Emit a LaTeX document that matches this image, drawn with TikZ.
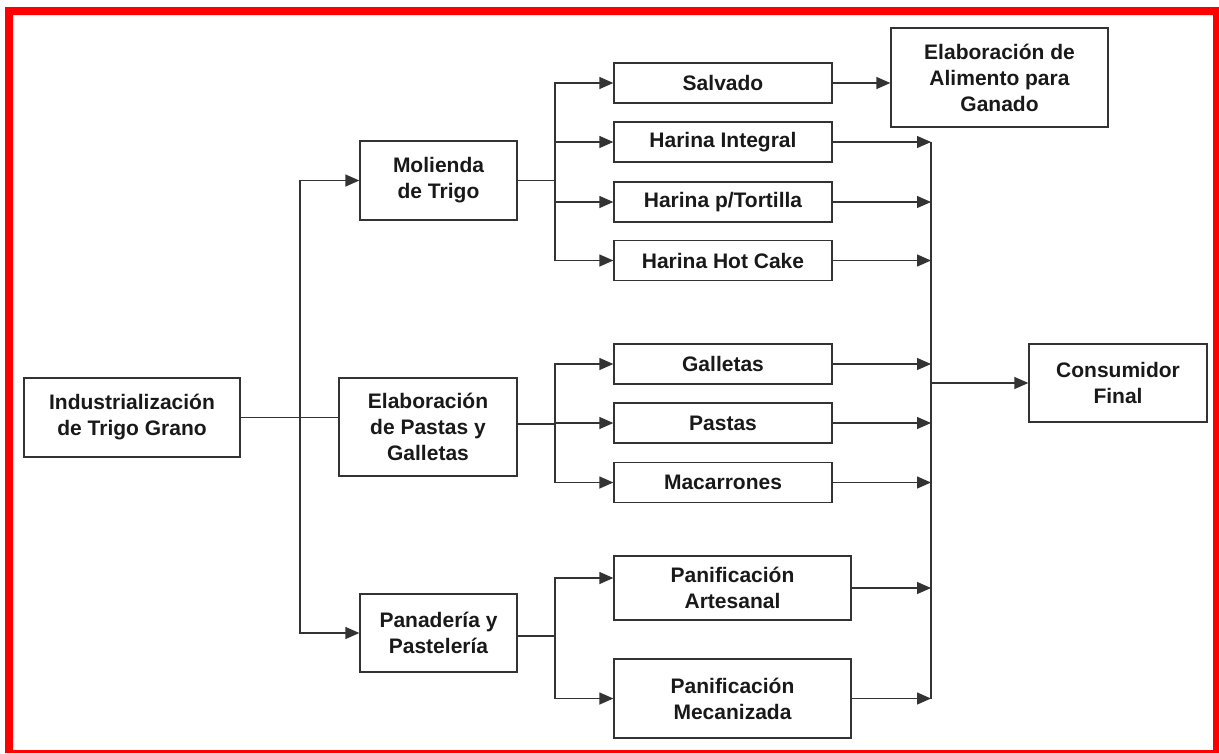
\documentclass[tikz,border=0pt]{standalone}
\usepackage{fontspec}
\setmainfont{Liberation Sans}
\usepackage{tikz}
\usetikzlibrary{arrows.meta}

\tikzset{
  box/.style={draw=black!80, line width=1.3pt, align=center, inner sep=0pt,
              text=black!90, font=\bfseries\fontsize{21}{26}\selectfont},
  arr/.style={draw=black!80, line width=1.3pt, -{Triangle[length=14pt,width=12pt]}},
  ln/.style={draw=black!80, line width=1.3pt}
}

\begin{document}
\begin{tikzpicture}[x=1pt, y=-1pt]
        \useasboundingbox (0,0) rectangle (1219,753);
        \fill[red, even odd rule] (5,7) rectangle (1219,753) (13,15) rectangle (1213,750);

        % first level
        \node[box, minimum width=216, minimum height=79] (ind) at (132,417.5) {Industrialización\\de Trigo Grano};
        \node[box, minimum width=157, minimum height=79] (mol) at (438.5,180.5) {Molienda\\de Trigo};
        \node[box, minimum width=178, minimum height=98] (pas) at (428,427) {Elaboración\\de Pastas y\\Galletas};
        \node[box, minimum width=157, minimum height=78] (pan) at (438.5,633) {Panadería y\\Pastelería};

        % products
        \node[box, minimum width=218, minimum height=40] (sal) at (723,83)    {Salvado};
        \node[box, minimum width=218, minimum height=40] (hin) at (723,142)   {Harina Integral};
        \node[box, minimum width=218, minimum height=40] (hto) at (723,202)   {Harina p/Tortilla};
        \node[box, minimum width=218, minimum height=40] (hhc) at (723,260.5) {Harina Hot Cake};
        \node[box, minimum width=218, minimum height=40] (gal) at (723,364)   {Galletas};
        \node[box, minimum width=218, minimum height=40] (pst) at (723,423)   {Pastas};
        \node[box, minimum width=218, minimum height=40] (mac) at (723,482.5) {Macarrones};
        \node[box, minimum width=237, minimum height=64] (art) at (732.5,588)   {Panificación\\Artesanal};
        \node[box, minimum width=237, minimum height=79] (mec) at (732.5,698.5) {Panificación\\Mecanizada};

        \node[box, minimum width=217, minimum height=99] (gan) at (999.5,77.5) {Elaboración de\\Alimento para\\Ganado};
        \node[box, minimum width=178, minimum height=78] (con) at (1118,383) {Consumidor\\Final};

        % junctions
        \coordinate (j1) at (300,417.5);
        \coordinate (j2) at (555,180.5);
        \coordinate (j3) at (555,424);
        \coordinate (j4) at (555,636);
        \coordinate (c)  at (931,383);

        \draw[ln] (ind) -- (ind -| pas.west);
        \draw[arr] (j1) |- (mol);
        \draw[arr] (j1) |- (pan);

        \draw[ln] (mol) -- (j2);
        \foreach \b in {sal,hin,hto,hhc} \draw[arr] (j2) |- (\b);
        \draw[ln] (j3 -| pas.east) -- (j3);
        \foreach \b in {gal,pst,mac} \draw[arr] (j3) |- (\b);
        \draw[ln] (j4 -| pan.east) -- (j4);
        \draw[arr] (j4) |- (art.west |- 0,578);
        \draw[arr] (j4) |- (mec);

        \draw[arr] (sal) -- (sal -| gan.west);

        \draw[ln] (hin -| c) -- (mec -| c);
        \foreach \b in {hin,hto,hhc,gal,pst,mac,art,mec} \draw[arr] (\b) -- (\b -| c);
        \draw[arr] (c) -- (con);
\end{tikzpicture}
\end{document}
